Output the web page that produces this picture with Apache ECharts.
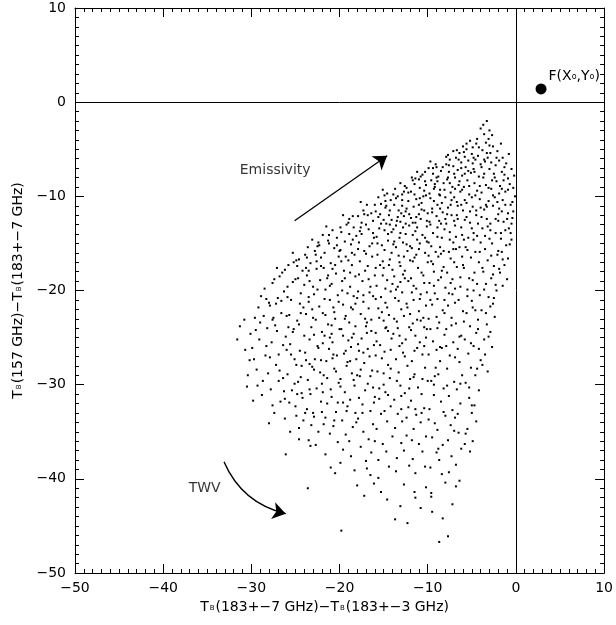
<!DOCTYPE html>
<html>
<head>
<meta charset="utf-8">
<script src="https://cdn.jsdelivr.net/npm/echarts@6/dist/echarts.min.js"></script>
<style>
  html, body { margin: 0; padding: 0; background: #fff; }
  #main { width: 616px; height: 625px; }
</style>
</head>
<body>
<div id="main"></div>
<script>
// axis ranges and tick step
var X_RANGE = [-50, 10];
var Y_RANGE = [-50, 10];
var TICK_STEP = 10;

// scatter dots, grouped by x strip (left to right)
var dotsLeft = [
  [-31.3,-23.8],[-31.6,-25.2],[-30.7,-26.3],[-30.2,-27.4],[-30.4,-29.0],[-30.8,-23.1],[-30.1,-24.6],[-30.5,-30.2],
  [-29.5,-24.2],[-29.3,-30.1],[-29.8,-31.7],[-28.9,-20.6],[-28.6,-22.7],[-29.2,-21.8],[-28.3,-25.9],[-29.7,-27.3],[-28.1,-28.8],
  [-29.0,-23.4],[-28.5,-19.8],[-29.9,-26.1],[-28.7,-29.6],[-28.2,-24.0],[-29.4,-28.4],[-28.8,-31.1],[-28.0,-21.3],[-29.6,-22.9],
  [-27.1,-17.6],[-26.8,-18.5],[-27.6,-19.2],[-26.3,-20.1],[-27.9,-21.6],[-26.6,-22.4],[-27.3,-23.7],[-26.1,-24.9],[-27.7,-25.5],
  [-26.9,-26.8],[-27.2,-27.9],[-26.4,-29.3],[-27.8,-30.5],[-26.7,-31.8],[-27.4,-33.0],[-28.0,-34.1],[-26.2,-33.6],[-26.1,-37.4],
  [-27.0,-20.8],[-26.5,-18.1],[-27.5,-22.9],[-26.0,-26.3],[-27.9,-27.1],[-26.8,-28.5],[-27.1,-24.3],[-26.3,-30.7],[-27.6,-32.2],[-26.6,-21.1],
  [-25.3,-16.0],[-24.6,-16.7],[-25.8,-17.3],[-24.2,-17.9],[-25.0,-18.8],[-25.9,-19.6],[-24.4,-20.3],[-25.5,-21.0],[-24.1,-21.8],
  [-25.7,-22.6],[-24.8,-23.2],[-25.2,-24.1],[-24.0,-24.8],[-25.6,-25.7],[-24.5,-26.4],[-25.1,-27.3],[-24.3,-28.0],[-25.9,-28.9],
  [-24.7,-29.7],[-25.4,-30.6],[-24.2,-31.4],[-25.0,-32.3],[-24.9,-33.3],[-25.6,-35.0],[-24.6,-35.8],[-24.1,-33.8],[-25.3,-19.1],
  [-24.8,-17.4],[-25.8,-23.9],[-24.4,-22.4],[-25.5,-26.8],[-24.9,-27.9],[-25.1,-29.9],[-24.3,-30.9],[-25.7,-31.9],[-24.6,-34.6],[-25.2,-17.0],[-24.0,-19.4]
];

var dotsCentreLeft = [
  [-23.1,-14.6],[-22.4,-14.9],[-23.6,-15.4],[-22.8,-15.8],[-22.1,-16.5],[-23.9,-16.2],[-23.3,-17.1],[-22.6,-17.7],[-23.7,-18.4],
  [-22.2,-18.9],[-23.0,-19.6],[-22.9,-20.4],[-23.5,-21.2],[-22.3,-21.7],[-23.8,-22.5],[-22.7,-23.1],[-23.2,-23.9],[-22.0,-24.4],
  [-23.4,-25.2],[-22.5,-25.9],[-23.9,-26.6],[-22.8,-27.3],[-23.1,-28.1],[-22.2,-28.7],[-23.6,-29.5],[-22.6,-30.4],[-23.3,-31.0],
  [-22.1,-31.8],[-23.7,-32.6],[-22.9,-33.4],[-23.2,-34.3],[-22.4,-35.0],[-23.5,-35.9],[-22.7,-36.4],[-23.3,-36.5],[-23.6,-41.0],
  [-22.3,-15.2],[-23.8,-17.6],[-22.5,-19.9],[-23.1,-22.0],[-22.9,-24.7],[-23.4,-27.8],[-22.0,-29.9],[-23.0,-33.0],[-22.6,-16.9],[-23.5,-20.7],
  [-21.5,-13.2],[-20.8,-13.6],[-21.9,-14.1],[-20.3,-14.4],[-21.2,-15.0],[-20.6,-15.5],[-21.7,-16.0],[-20.1,-16.4],[-21.0,-17.1],
  [-21.8,-17.6],[-20.4,-18.2],[-21.4,-18.7],[-20.9,-19.3],[-21.6,-19.9],[-20.2,-20.5],[-21.1,-21.0],[-20.7,-21.8],[-21.9,-22.4],
  [-20.5,-23.0],[-21.3,-23.6],[-20.0,-24.1],[-21.7,-24.8],[-20.8,-25.5],[-21.2,-26.2],[-20.3,-26.9],[-21.5,-27.5],[-20.6,-28.3],
  [-21.8,-29.0],[-20.1,-29.8],[-21.0,-30.5],[-20.9,-31.3],[-21.4,-32.0],[-20.4,-32.9],[-21.6,-33.5],[-20.7,-34.4],[-21.1,-35.2],
  [-20.2,-36.1],[-21.6,-37.4],[-21.0,-38.8],[-20.5,-39.4],[-21.3,-14.7],[-20.0,-15.8],[-21.7,-20.9],[-20.6,-22.3],[-21.9,-25.6],
  [-20.8,-27.2],[-21.4,-29.3],[-20.2,-31.9],[-21.8,-34.2],[-20.5,-17.3],[-21.1,-19.5],[-20.9,-24.6],
  [-19.6,-12.0],[-18.9,-12.4],[-19.2,-13.0],[-18.4,-13.3],[-19.8,-13.8],[-18.1,-14.2],[-19.4,-14.8],[-18.7,-15.1],[-19.9,-15.7],
  [-18.3,-16.2],[-19.0,-16.8],[-18.6,-17.3],[-19.5,-17.9],[-18.2,-18.5],[-19.7,-19.0],[-18.8,-19.6],[-19.1,-20.3],[-18.0,-20.8],
  [-19.6,-21.5],[-18.5,-22.0],[-19.3,-22.7],[-18.9,-23.4],[-19.8,-24.1],[-18.4,-24.6],[-19.0,-25.3],[-18.7,-26.0],[-19.5,-26.7],
  [-18.1,-27.3],[-19.2,-28.0],[-18.6,-28.8],[-19.9,-29.4],[-18.3,-30.1],[-19.4,-30.8],[-18.8,-31.6],[-19.1,-32.3],[-18.2,-33.0],
  [-19.7,-33.8],[-18.5,-34.5],[-19.3,-35.3],[-18.9,-36.0],[-19.6,-36.9],[-18.7,-37.6],[-19.9,-38.3],[-18.3,-39.1],[-18.0,-40.7],
  [-19.8,-45.5],[-19.0,-12.8],[-18.5,-14.6],[-19.3,-16.4],[-18.8,-18.1],[-19.7,-20.0],[-18.2,-21.4],[-19.4,-23.0],[-18.6,-25.0],
  [-19.1,-27.6],[-18.4,-29.5],[-19.6,-31.9],[-18.1,-34.0]
];

var dotsCentre = [
  [-17.6,-10.6],[-16.9,-10.9],[-17.3,-11.5],[-16.4,-11.8],[-17.9,-12.1],[-16.2,-12.6],[-17.0,-13.0],[-16.7,-13.5],[-17.5,-14.0],
  [-16.1,-14.4],[-17.8,-14.9],[-16.6,-15.3],[-17.2,-15.8],[-16.3,-16.4],[-17.7,-16.9],[-16.8,-17.4],[-17.1,-17.9],[-16.0,-18.4],
  [-17.4,-19.0],[-16.5,-19.6],[-17.9,-20.1],[-16.2,-20.6],[-17.3,-21.2],[-16.7,-21.9],[-17.6,-22.5],[-16.4,-23.1],[-17.0,-23.8],
  [-16.9,-24.5],[-17.5,-25.1],[-16.1,-25.8],[-17.8,-26.4],[-16.6,-27.0],[-17.2,-27.7],[-16.3,-28.5],[-17.7,-29.1],[-16.8,-29.9],
  [-17.1,-30.6],[-16.0,-31.3],[-17.4,-32.1],[-16.5,-32.8],[-17.9,-33.6],[-16.2,-34.2],[-17.3,-35.0],[-16.7,-35.8],[-17.6,-36.6],
  [-16.4,-37.2],[-17.0,-38.1],[-16.9,-38.9],[-17.2,-41.8],[-16.1,-40.5],[-16.5,-39.6],[-17.5,-12.8],[-16.3,-15.0],[-17.8,-18.3],
  [-16.6,-20.2],[-17.1,-23.0],[-16.8,-26.2],[-17.6,-28.4],[-16.2,-30.3],[-17.4,-33.0],[-16.0,-36.0],[-17.7,-13.7],
  [-15.1,-9.3],[-14.6,-9.7],[-15.6,-10.1],[-14.2,-10.4],[-15.3,-10.8],[-14.8,-11.2],[-15.9,-11.6],[-14.4,-12.0],[-15.0,-12.5],
  [-14.7,-12.9],[-15.5,-13.4],[-14.1,-13.8],[-15.8,-14.3],[-14.5,-14.7],[-15.2,-15.2],[-14.9,-15.7],[-15.7,-16.2],[-14.3,-16.7],
  [-15.4,-17.3],[-14.0,-17.8],[-15.1,-18.4],[-14.6,-18.9],[-15.8,-19.5],[-14.2,-20.1],[-15.3,-20.7],[-14.8,-21.3],[-15.6,-21.9],
  [-14.4,-22.6],[-15.0,-23.2],[-14.7,-23.9],[-15.9,-24.5],[-14.1,-25.1],[-15.4,-25.8],[-14.9,-26.5],[-15.2,-27.2],[-14.5,-27.9],
  [-15.7,-28.6],[-14.3,-29.3],[-15.0,-30.0],[-14.8,-30.8],[-15.5,-31.5],[-14.2,-32.3],[-15.3,-33.1],[-14.6,-33.9],[-15.8,-34.7],
  [-14.0,-35.5],[-15.1,-36.3],[-14.7,-37.1],[-15.6,-38.0],[-14.4,-38.7],[-15.6,-39.9],[-14.6,-42.2],[-15.3,-41.4],[-14.9,-9.9],
  [-15.4,-11.9],[-14.3,-13.0],[-15.7,-15.0],[-14.1,-16.0],[-15.0,-17.6],[-14.8,-19.8],[-15.2,-22.3],[-14.5,-24.3],[-15.9,-26.9],
  [-14.2,-28.3],[-15.5,-30.4],[-14.9,-32.8],
  [-13.1,-8.6],[-12.6,-8.9],[-13.7,-9.2],[-12.2,-9.6],[-13.4,-10.0],[-12.9,-10.4],[-13.8,-10.9],[-12.4,-11.3],[-13.0,-11.8],
  [-12.7,-12.1],[-13.5,-12.6],[-12.1,-13.1],[-13.9,-13.5],[-12.5,-14.0],[-13.2,-14.4],[-12.8,-14.9],[-13.6,-15.4],[-12.3,-15.8],
  [-13.3,-16.3],[-12.0,-16.8],[-13.1,-17.4],[-12.6,-17.9],[-13.8,-18.5],[-12.2,-19.0],[-13.4,-19.6],[-12.9,-20.2],[-13.7,-20.8],
  [-12.4,-21.4],[-13.0,-22.0],[-12.7,-22.7],[-13.5,-23.3],[-12.1,-23.9],[-13.9,-24.6],[-12.5,-25.2],[-13.2,-25.9],[-12.8,-26.6],
  [-13.6,-27.3],[-12.3,-28.0],[-13.3,-28.7],[-12.0,-29.4],[-13.1,-30.1],[-12.6,-30.9],[-13.8,-31.6],[-12.2,-32.4],[-13.4,-33.1],
  [-12.9,-33.9],[-13.7,-34.6],[-12.4,-35.4],[-13.0,-36.2],[-12.7,-37.0],[-13.5,-37.8],[-12.1,-38.6],[-13.6,-39.2],[-12.7,-40.6],
  [-13.1,-42.9],[-13.7,-44.3],[-12.3,-44.7],[-12.9,-9.8],[-13.3,-11.5],[-12.5,-12.9],[-13.9,-15.1],[-12.0,-15.3],[-13.2,-17.0],
  [-12.8,-18.3],[-13.6,-19.9],[-12.3,-21.8],[-13.4,-24.0],[-12.6,-27.0],[-13.0,-31.2],[-12.4,-33.5]
];

var dotsCentreRight = [
  [-11.2,-7.4],[-10.6,-7.7],[-11.8,-8.0],[-10.3,-8.4],[-11.5,-8.7],[-10.9,-9.1],[-11.9,-9.5],[-10.2,-9.9],[-11.3,-10.3],
  [-10.7,-10.7],[-11.6,-11.1],[-10.4,-11.5],[-11.0,-11.9],[-10.8,-12.4],[-11.7,-12.8],[-10.1,-13.2],[-11.4,-13.7],[-10.6,-14.1],
  [-11.2,-14.6],[-10.9,-15.0],[-11.8,-15.5],[-10.3,-16.0],[-11.5,-16.5],[-10.0,-17.0],[-11.1,-17.6],[-10.7,-18.1],[-11.9,-18.7],
  [-10.4,-19.2],[-11.3,-19.8],[-10.8,-20.4],[-11.6,-21.0],[-10.2,-21.6],[-11.0,-22.2],[-10.5,-22.9],[-11.7,-23.5],[-10.1,-24.1],
  [-11.4,-24.8],[-10.9,-25.5],[-11.2,-26.1],[-10.6,-26.8],[-11.8,-27.5],[-10.3,-28.2],[-11.5,-28.9],[-10.0,-29.6],[-11.1,-30.3],
  [-10.7,-31.0],[-11.9,-31.7],[-10.4,-32.5],[-11.3,-33.2],[-10.8,-34.0],[-11.6,-34.7],[-10.2,-35.5],[-11.0,-36.3],[-10.6,-37.1],
  [-11.7,-37.9],[-10.3,-38.7],[-11.4,-39.4],[-10.2,-40.9],[-11.5,-41.4],[-11.4,-42.0],[-10.8,-43.1],[-11.0,-8.2],[-10.5,-10.0],
  [-11.3,-12.2],[-10.1,-14.8],[-11.7,-16.9],[-10.9,-20.9],[-11.2,-23.1],[-10.4,-25.9],[-11.6,-29.2],[-10.7,-33.0],[-11.8,-35.9],
  [-9.7,-6.3],[-9.1,-6.6],[-9.9,-7.0],[-8.5,-7.3],[-9.4,-7.6],[-8.8,-7.9],[-9.6,-8.3],[-8.2,-8.6],[-9.2,-9.0],[-8.6,-9.3],
  [-9.8,-9.7],[-8.0,-10.1],[-9.3,-10.5],[-8.9,-10.9],[-9.5,-11.3],[-8.3,-11.7],[-9.0,-12.1],[-8.7,-12.6],[-9.7,-13.0],[-8.1,-13.5],
  [-9.4,-13.9],[-8.4,-14.4],[-9.9,-14.9],[-8.6,-15.4],[-9.1,-15.9],[-8.8,-16.4],[-9.6,-16.9],[-8.2,-17.5],[-9.3,-18.0],[-8.5,-18.6],
  [-9.8,-19.2],[-8.0,-19.7],[-9.2,-20.3],[-8.9,-20.9],[-9.5,-21.5],[-8.3,-22.1],[-9.0,-22.8],[-8.7,-23.4],[-9.7,-24.1],[-8.1,-24.7],
  [-9.4,-25.4],[-8.4,-26.1],[-9.9,-26.8],[-8.6,-27.5],[-9.1,-28.2],[-8.8,-28.9],[-9.6,-29.6],[-8.2,-30.4],[-9.3,-31.1],[-8.5,-31.8],
  [-9.8,-32.6],[-8.0,-33.3],[-9.2,-34.1],[-8.9,-34.8],[-9.5,-35.6],[-8.3,-36.4],[-9.0,-37.2],[-8.7,-38.0],[-9.7,-38.8],[-8.4,-39.5],
  [-9.6,-41.5],[-9.6,-41.9],[-9.5,-43.5],[-8.7,-46.7],[-8.3,-44.2],[-8.0,-40.4],[-9.0,-8.0],[-8.5,-12.9],[-9.4,-17.2],[-8.1,-21.0],
  [-9.9,-23.0],[-8.6,-26.0],[-9.3,-30.0],[-8.8,-36.8],
  [-7.1,-5.2],[-7.7,-5.6],[-6.4,-5.4],[-6.8,-5.9],[-7.5,-6.1],[-6.2,-6.4],[-7.9,-6.6],[-6.6,-7.2],[-7.1,-6.8],[-7.6,-7.4],
  [-6.1,-7.8],[-6.9,-8.0],[-7.8,-8.2],[-6.5,-8.8],[-7.2,-9.0],[-7.4,-9.6],[-6.3,-9.5],[-7.0,-10.1],[-6.7,-10.6],[-7.7,-11.2],
  [-6.0,-11.5],[-7.3,-12.0],[-6.6,-12.4],[-7.9,-12.9],[-6.2,-13.3],[-7.5,-13.8],[-6.8,-14.3],[-7.1,-14.9],[-6.4,-15.4],[-7.6,-15.9],
  [-6.1,-16.4],[-7.0,-17.0],[-6.7,-17.5],[-7.8,-18.1],[-6.3,-18.6],[-7.4,-19.2],[-6.9,-19.8],[-7.2,-20.4],[-6.5,-21.0],[-7.7,-21.6],
  [-6.0,-22.2],[-7.3,-22.9],[-6.8,-23.5],[-7.9,-24.1],[-6.2,-24.8],[-7.1,-25.5],[-6.6,-26.2],[-7.5,-26.9],[-6.4,-27.6],[-7.8,-28.3],
  [-6.1,-29.0],[-7.0,-29.7],[-6.7,-30.5],[-7.6,-31.2],[-6.3,-32.0],[-7.2,-32.7],[-6.9,-33.5],[-7.4,-34.3],[-6.5,-35.1],[-7.7,-35.9],
  [-6.2,-36.8],[-7.3,-37.6],[-6.8,-38.5],[-7.6,-39.3],[-6.4,-40.2],[-6.8,-40.8],[-7.2,-42.7],[-7.7,-46.1],[-6.6,-11.0],[-7.4,-16.6],
  [-6.9,-27.1],[-7.0,-34.9]
];

var dotsRight = [
  [-5.2,-4.1],[-4.5,-4.4],[-6.0,-4.7],[-5.6,-5.0],[-4.9,-4.8],[-5.0,-5.5],[-4.3,-5.7],[-5.8,-5.8],[-4.6,-6.1],[-5.4,-6.2],
  [-4.0,-6.6],[-5.7,-6.9],[-4.8,-7.1],[-5.1,-7.5],[-4.2,-7.9],[-5.5,-8.3],[-4.7,-8.6],[-5.9,-9.0],[-4.4,-9.4],[-5.3,-9.8],
  [-4.1,-10.3],[-5.6,-10.7],[-4.9,-11.1],[-5.2,-11.6],[-4.5,-12.0],[-5.8,-12.5],[-4.3,-12.9],[-5.0,-13.4],[-4.8,-13.9],[-5.4,-14.4],
  [-4.0,-14.9],[-5.7,-15.4],[-4.6,-15.9],[-5.1,-16.5],[-4.2,-17.0],[-5.9,-17.6],[-4.7,-18.1],[-5.3,-18.7],[-4.4,-19.3],[-5.5,-19.9],
  [-4.1,-20.5],[-5.0,-21.1],[-4.9,-21.8],[-5.6,-22.4],[-4.3,-23.1],[-5.2,-23.8],[-4.5,-24.5],[-5.8,-25.2],[-4.8,-25.9],[-5.4,-26.7],
  [-4.0,-27.4],[-5.1,-28.2],[-4.6,-29.0],[-5.7,-29.8],[-4.2,-30.6],[-5.3,-31.4],[-4.7,-32.2],[-5.0,-33.0],[-4.5,-33.9],[-5.5,-34.7],
  [-5.7,-35.2],[-5.8,-36.3],[-5.2,-37.1],[-4.9,-36.0],
  [-3.3,-2.0],[-3.7,-2.4],[-4.0,-2.8],[-3.0,-3.0],[-3.6,-3.4],[-2.7,-3.5],[-3.1,-3.9],[-3.4,-4.3],[-2.6,-4.7],[-3.8,-5.1],
  [-2.1,-5.2],[-3.2,-5.9],[-2.9,-5.4],[-3.5,-6.3],[-2.3,-6.7],[-3.0,-7.1],[-2.5,-7.6],[-3.7,-8.0],[-2.2,-8.4],[-3.4,-8.8],
  [-2.8,-9.2],[-3.9,-9.6],[-2.4,-10.1],[-3.1,-10.5],[-2.6,-11.0],[-3.6,-11.4],[-2.0,-11.9],[-3.3,-12.4],[-2.9,-12.9],[-3.8,-13.4],
  [-2.3,-13.9],[-3.0,-14.5],[-2.7,-15.0],[-3.5,-15.6],[-2.1,-16.2],[-3.2,-16.8],[-2.5,-17.4],[-3.7,-18.0],[-2.8,-18.7],[-3.4,-19.3],
  [-2.2,-20.0],[-3.1,-20.7],[-2.6,-21.4],[-3.9,-22.1],[-2.4,-22.8],[-3.3,-23.6],[-2.9,-24.4],[-3.6,-25.2],[-2.7,-26.0],[-3.5,-26.8],
  [-3.8,-27.9],[-3.2,-28.6],
  [-1.7,-4.4],[-0.8,-5.5],[-1.5,-5.9],[-1.1,-6.5],[-1.9,-6.2],[-0.5,-7.1],[-1.6,-7.4],[-0.2,-7.8],[-1.3,-7.7],[-0.7,-8.7],
  [-1.8,-8.9],[-0.3,-9.1],[-1.2,-9.5],[-0.1,-10.0],[-1.5,-10.4],[-0.6,-10.9],[-1.9,-11.3],[-0.9,-11.8],[-0.4,-12.3],[-1.4,-12.7],
  [-0.8,-13.4],[-1.7,-13.9],[-0.5,-14.6],[-1.1,-15.2],[-1.6,-15.9],[-0.9,-16.6],[-1.3,-17.3],[-1.8,-18.1],[-1.0,-18.8],[-1.5,-19.5]
];

// the thick band just under the upper edge
var dotsDenseBand = [
  [-12.4,-9.1],[-11.7,-8.3],[-10.8,-7.9],[-10.2,-8.8],[-9.4,-7.0],[-8.9,-8.4],[-8.3,-6.9],[-7.6,-6.7],[-7.0,-7.6],[-6.5,-6.1],
  [-5.9,-5.3],[-5.4,-7.3],[-4.8,-5.9],[-4.2,-4.8],[-3.9,-6.9],[-3.3,-5.4],[-2.8,-6.4],[-2.4,-8.0],[-1.9,-9.7],[-1.4,-8.3],
  [-0.9,-9.3],[-0.4,-10.6],[-13.6,-10.2],[-12.9,-11.0],[-12.2,-10.5],[-11.5,-9.8],[-11.0,-10.9],[-10.4,-9.4],[-9.7,-10.2],[-9.2,-8.7],
  [-8.6,-9.9],[-8.1,-9.3],[-7.5,-8.6],[-6.9,-9.2],[-6.4,-8.4],[-5.8,-7.6],[-5.3,-8.9],[-4.7,-7.4],[-4.1,-8.9],[-3.6,-7.6],
  [-3.1,-9.1],[-2.6,-9.9],[-2.1,-10.6],[-1.6,-11.6],[-1.0,-12.4],[-14.7,-11.0],[-14.1,-12.5],[-13.4,-12.2],[-12.8,-13.3],[-12.1,-11.9],
  [-11.4,-12.8],[-10.7,-11.4],[-10.1,-12.6],[-9.5,-11.7],[-8.9,-13.3],[-8.4,-10.7],[-7.8,-11.9],[-7.3,-10.4],[-6.7,-12.0],[-6.2,-10.9],
  [-5.6,-12.2],[-5.0,-10.1],[-4.5,-11.5],[-3.9,-12.2],[-3.4,-10.9],[-2.9,-13.6],[-2.3,-12.4],[-1.7,-14.5],[-1.2,-13.6],[-0.6,-13.9],
  [-15.3,-12.9],[-14.5,-14.0],[-13.8,-14.8],[-13.1,-13.9],[-12.4,-15.1],[-11.7,-14.1],[-11.0,-15.6],[-10.3,-14.4],[-9.6,-15.3],[-8.9,-14.3],
  [-8.2,-15.8],[-7.5,-14.6],[-6.8,-15.6],[-6.1,-14.1],[-5.5,-15.7],[-4.8,-14.6],[-4.1,-15.9],[-3.5,-14.2],[-2.8,-16.3],[-2.0,-15.8]
];

// extra dots that fill the gaps of the main body
var dotsFill = [
  [-22.7,-16.2],[-21.3,-18.4],[-19.8,-16.9],[-24.5,-21.4],[-20.9,-23.7],[-18.4,-20.6],[-16.7,-18.8],[-23.4,-19.0],[-17.9,-15.6],[-15.1,-16.9],
  [-14.0,-19.3],[-12.6,-18.7],[-13.3,-21.1],[-11.8,-20.2],[-10.5,-18.4],[-9.3,-19.5],[-8.4,-17.9],[-7.2,-18.8],[-6.0,-17.3],[-4.9,-18.9],
  [-3.8,-17.6],[-2.6,-18.3],[-1.9,-17.7],[-5.5,-20.6],[-6.9,-21.3],[-8.1,-22.4],[-9.7,-21.0],[-10.8,-23.2],[-12.0,-22.5],[-13.8,-23.0],
  [-15.5,-22.9],[-16.9,-23.4],[-18.2,-23.8],[-19.6,-24.8],[-21.1,-25.0],[-22.4,-26.1],[-23.8,-27.4],[-25.3,-24.4],[-26.4,-25.8],[-27.6,-23.1],
  [-28.4,-26.9],[-29.1,-25.2],[-26.9,-29.6],[-24.4,-29.2],[-22.9,-28.4],[-20.4,-28.6],[-18.8,-27.5],[-17.3,-26.6],[-15.8,-25.4],[-14.2,-26.3],
  [-12.9,-25.6],[-11.5,-26.4],[-10.2,-25.0],[-9.0,-26.3],[-7.9,-25.9],[-6.4,-24.9],[-5.1,-25.6],[-4.2,-26.2],[-3.4,-22.4],[-4.6,-22.1],
  [-2.9,-21.7],[-2.3,-19.4],[-1.5,-16.7],[-0.7,-15.1],[-0.3,-11.6],[-0.9,-8.1],[-1.3,-6.9],[-2.2,-5.9],[-3.0,-4.6],[-4.4,-3.9],
  [-5.6,-4.4],[-6.7,-5.1],[-7.9,-5.8],[-9.0,-6.9],[-10.3,-7.4],[-11.4,-8.1],[-12.7,-9.5],[-13.9,-9.8],[-14.8,-10.5],[-16.0,-10.9],
  [-17.2,-11.9],[-18.5,-12.1],[-19.9,-13.3],[-21.2,-14.1],[-22.5,-15.3],[-23.7,-16.5],[-24.9,-16.8],[-26.2,-17.8],[-27.4,-18.8],[-28.3,-20.9],
  [-8.7,-9.8],[-7.4,-10.9],[-6.1,-9.3],[-4.6,-9.9],[-3.3,-11.1],[-2.0,-12.6],[-1.2,-10.9],[-5.2,-12.8],[-6.9,-13.1],[-8.0,-12.4],
  [-9.8,-12.7],[-11.2,-13.3],[-12.5,-11.6],[-13.6,-13.1],[-14.9,-13.6],[-16.2,-13.9],[-17.6,-13.3],[-18.9,-14.0],[-20.3,-15.2],[-10.9,-10.2],
  [-9.3,-9.2],[-7.7,-8.0],[-6.2,-7.0],[-4.9,-6.5],[-3.6,-6.1],[-2.7,-8.3],[-1.6,-9.2],[-0.5,-12.9],[-4.0,-11.2],[-5.8,-10.4],
  [-7.0,-12.6],[-8.6,-11.3],[-10.0,-11.8],[-11.9,-12.3],[-13.1,-12.7],[-14.3,-11.5],[-15.6,-12.2],[-16.8,-12.0],[-3.2,-13.2],[-4.4,-14.2],
  [-5.9,-14.6],[-7.1,-15.6],[-8.5,-16.1],[-9.9,-16.3],[-11.3,-16.2],[-12.7,-16.4],[-14.4,-17.3],[-15.9,-17.6],[-17.0,-16.1],[-18.6,-16.0],
  [-19.4,-18.7],[-20.8,-17.7],[-22.1,-17.4],[-23.5,-17.9],[-24.7,-18.7],[-25.9,-20.7],[-27.2,-21.4],[-26.0,-22.7],[-24.6,-23.6],[-23.0,-22.9],
  [-21.6,-22.6],[-20.1,-21.2],[-18.7,-21.8],[-17.3,-20.5],[-15.9,-20.9],[-14.6,-21.8],[-13.1,-19.1],[-11.6,-19.5],[-10.1,-20.2],[-8.8,-18.9],
  [-7.6,-20.3],[-6.3,-19.6],[-4.8,-20.0],[-3.6,-19.9],[-2.5,-20.8],[-3.1,-24.9],[-4.3,-24.1],[-5.9,-23.3],[-7.3,-23.7],[-8.9,-24.0],
  [-10.4,-23.9],[-11.9,-24.2],[-13.2,-24.8],[-14.8,-24.0],[-16.4,-24.3],[-17.9,-25.7],[-19.3,-26.4],[-20.7,-26.8],[-22.1,-27.4],[-23.4,-30.5],
  [-21.9,-30.8],[-19.9,-30.2],[-18.0,-29.0],[-16.5,-29.1],[-15.0,-28.8],[-13.5,-29.6],[-12.1,-30.4],[-10.6,-29.4],[-9.2,-29.1],[-7.8,-30.1],
  [-6.3,-29.9],[-5.3,-30.3],[-4.4,-28.3],[-5.0,-32.2],[-6.6,-33.1],[-8.2,-32.9],[-9.9,-33.7],[-11.4,-32.6],[-13.0,-32.6],[-14.5,-31.1],
  [-16.1,-31.9],[-17.8,-31.4],[-19.2,-32.8],[-20.6,-33.8],[-22.0,-32.9],[-23.9,-33.0],[-24.8,-31.0],[-26.2,-31.5]
];

// annotation positions in data units
var pointF = [2.85, 1.4];
var emissivityArrow = [[-25.1, -12.6], [-14.6, -5.7]];
var twvArrow = [[-33.1, -38.2], [-26.1, -43.7]];
var emissivityText = [-27.3, -7.2];
var twvText = [-35.3, -41.0];

var FONT = 'DejaVu Sans';
var allDots = dotsLeft.concat(dotsCentreLeft, dotsCentre, dotsCentreRight, dotsRight, dotsDenseBand, dotsFill);

function minusSign(v) {
  return String(v).replace('-', '\u2212');
}

function frameAxis(pos, range, showLabel, extra) {
  var axis = {
    type: 'value',
    position: pos,
    min: range[0],
    max: range[1],
    interval: TICK_STEP,
    axisLine: { show: true, onZero: false, lineStyle: { color: '#000', width: 1 } },
    axisTick: { show: true, inside: true, length: 9, lineStyle: { color: '#000' } },
    minorTick: { show: true, splitNumber: 10, length: 4, lineStyle: { color: '#000' } },
    splitLine: { show: false },
    axisLabel: {
      show: showLabel,
      color: '#000',
      fontFamily: FONT,
      fontSize: 14,
      formatter: minusSign
    }
  };
  for (var k in extra) axis[k] = extra[k];
  return axis;
}

var titleRich = {
  t: { fontFamily: FONT, fontSize: 14, color: '#000', verticalAlign: 'bottom' },
  s: { fontFamily: FONT, fontSize: 7, color: '#000', verticalAlign: 'bottom', padding: [0, 1, 2, 1] }
};

var myChart = echarts.init(document.getElementById('main'));

myChart.setOption({
  animation: false,
  backgroundColor: '#fff',
  grid: { left: 75, right: 7, top: 8, bottom: 52, containLabel: false },
  xAxis: [
    frameAxis('bottom', X_RANGE, true, {
      name: '{t|T}{s|B}{t|(183+\u22127 GHz)\u2212T}{s|B}{t|(183+\u22123 GHz)}',
      nameLocation: 'middle',
      nameGap: 25,
      nameTextStyle: { rich: titleRich, padding: [0, 30, 0, 0] },
      axisLabel: { show: true, color: '#000', fontFamily: FONT, fontSize: 14, margin: 8, formatter: minusSign }
    }),
    frameAxis('top', X_RANGE, false, {})
  ],
  yAxis: [
    frameAxis('left', Y_RANGE, true, {
      name: '{t|T}{s|B}{t|(157 GHz)\u2212T}{s|B}{t|(183+\u22127 GHz)}',
      nameLocation: 'middle',
      nameGap: 50,
      nameRotate: 90,
      nameTextStyle: { rich: titleRich },
      axisLabel: { show: true, color: '#000', fontFamily: FONT, fontSize: 14, margin: 9, formatter: minusSign }
    }),
    frameAxis('right', Y_RANGE, false, {})
  ],
  series: [
    {
      type: 'scatter',
      name: 'dots',
      data: allDots,
      symbol: 'rect',
      symbolSize: 2,
      itemStyle: { color: '#000', opacity: 1 },
      silent: true,
      markLine: {
        silent: true,
        symbol: ['none', 'none'],
        label: { show: false },
        lineStyle: { color: '#000', type: 'solid', width: 1, opacity: 1 },
        data: [{ xAxis: 0 }, { yAxis: 0 }]
      }
    },
    {
      type: 'scatter',
      name: 'F',
      data: [pointF],
      symbol: 'circle',
      symbolSize: 11,
      itemStyle: { color: '#000', opacity: 1 },
      label: {
        show: true,
        position: 'right',
        offset: [-3, -13],
        formatter: 'F(X{o|o},Y{o|o})',
        color: '#000',
        fontFamily: FONT,
        fontSize: 14,
        rich: {
          o: { fontFamily: FONT, fontSize: 8, color: '#000', verticalAlign: 'bottom', padding: [0, 0, 2, 0] }
        }
      }
    },
    {
      type: 'lines',
      coordinateSystem: 'cartesian2d',
      symbol: ['none', 'arrow'],
      symbolSize: [8, 13],
      silent: true,
      lineStyle: { color: '#000', width: 1.3, opacity: 1, curveness: 0 },
      data: [{ coords: emissivityArrow }]
    },
    {
      type: 'lines',
      coordinateSystem: 'cartesian2d',
      symbol: ['none', 'arrow'],
      symbolSize: [8, 13],
      silent: true,
      lineStyle: { color: '#000', width: 1.3, opacity: 1, curveness: -0.25 },
      data: [{ coords: twvArrow }]
    },
    {
      type: 'scatter',
      name: 'notes',
      symbolSize: 0,
      silent: true,
      data: [
        { value: emissivityText, name: 'Emissivity' },
        { value: twvText, name: 'TWV' }
      ],
      label: {
        show: true,
        position: 'inside',
        formatter: '{b}',
        color: '#000',
        fontFamily: FONT,
        fontSize: 14
      }
    }
  ]
});

window.onresize = myChart.resize;
</script>
</body>
</html>
